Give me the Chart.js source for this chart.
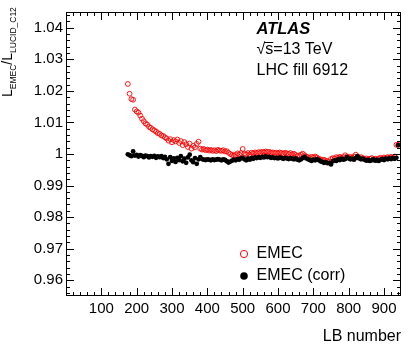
<!DOCTYPE html>
<html>
<head>
<meta charset="utf-8">
<script src="https://cdn.jsdelivr.net/npm/chart.js@4.4.1/dist/chart.umd.min.js"></script>
<style>
  html, body { margin: 0; padding: 0; background: #fff; }
  #wrap { width: 414px; height: 353px; }
</style>
</head>
<body>
<div id="wrap"><canvas id="lumi-ratio" width="414" height="353"></canvas></div>
<script>
/* EMEC / LUCID_C12 luminosity ratio vs LB, fill 6912 */

const lbNumbers = [
  175, 180, 185, 190, 195, 200, 205, 210, 215, 220,
  225, 230, 235, 240, 245, 250, 255, 260, 265, 270,
  275, 280, 285, 290, 295, 300, 305, 310, 315, 320,
  325, 330, 335, 340, 345, 350, 355, 360, 365, 370,
  375, 380, 385, 390, 395, 400, 405, 410, 415, 420,
  425, 430, 435, 440, 445, 450, 455, 460, 465, 470,
  475, 480, 485, 490, 495, 500, 505, 510, 515, 520,
  525, 530, 535, 540, 545, 550, 555, 560, 565, 570,
  575, 580, 585, 590, 595, 600, 605, 610, 615, 620,
  625, 630, 635, 640, 645, 650, 655, 660, 665, 670,
  675, 680, 685, 690, 695, 700, 705, 710, 715, 720,
  725, 730, 735, 740, 745, 750, 755, 760, 765, 770,
  775, 780, 785, 790, 795, 800, 805, 810, 815, 820,
  825, 830, 835, 840, 845, 850, 855, 860, 865, 870,
  875, 880, 885, 890, 895, 900, 905, 910, 915, 920,
  925, 930, 935, 940
];

// EMEC (open red circles)
const emecRatio = [
  1.0222, 1.0191, 1.0174, 1.0172, 1.0141, 1.0135, 1.0131, 1.0122, 1.0112, 1.0104,
  1.0097, 1.0093, 1.0086, 1.0083, 1.0078, 1.0075, 1.0071, 1.0066, 1.0064, 1.0059,
  1.0057, 1.0053, 1.0049, 1.0042, 1.0047, 1.0037, 1.0044, 1.0040, 1.0046, 1.0035,
  1.0041, 1.0028, 1.0038, 1.0031, 1.0022, 1.0033, 1.0017, 1.0026, 1.0021, 1.0032,
  1.0039, 1.0017, 1.0014, 1.0016, 1.0012, 1.0014, 1.0011, 1.0013, 1.0010, 1.0012,
  1.0009, 1.0013, 1.0011, 1.0010, 1.0012, 1.0008, 1.0009, 1.0004, 1.0000, 0.9997,
  0.9995, 0.9997, 1.0002, 0.9999, 1.0003, 1.0016, 1.0001, 0.9999, 1.0003, 0.9998,
  1.0004, 1.0002, 1.0005, 1.0003, 1.0006, 1.0004, 1.0007, 1.0005, 1.0008, 1.0006,
  1.0007, 1.0004, 1.0005, 1.0003, 1.0004, 1.0002, 1.0005, 1.0003, 1.0001, 1.0004,
  1.0002, 1.0000, 1.0003, 0.9999, 1.0001, 0.9997, 0.9994, 0.9995, 0.9998, 1.0001,
  0.9996, 0.9992, 0.9990, 0.9987, 0.9991, 0.9989, 0.9992, 0.9989, 0.9985, 0.9983,
  0.9980, 0.9982, 0.9978, 0.9978, 0.9975, 0.9984, 0.9987, 0.9985, 0.9990, 0.9988,
  0.9991, 0.9988, 0.9990, 0.9996, 0.9992, 0.9989, 0.9991, 0.9988, 0.9992, 0.9998,
  0.9991, 0.9988, 0.9990, 0.9987, 0.9984, 0.9986, 0.9983, 0.9985, 0.9987, 0.9983,
  0.9985, 0.9982, 0.9986, 0.9988, 0.9985, 0.9989, 0.9987, 0.9990, 0.9988, 0.9991,
  0.9989, 0.9992, 1.0029, 1.0029
];

// EMEC (corr) (filled black circles)
const emecCorrRatio = [
  0.9999, 0.9996, 0.9993, 1.0008, 0.9995, 0.9997, 0.9992, 0.9996, 0.9994, 0.9990,
  0.9995, 0.9993, 0.9989, 0.9993, 0.9991, 0.9994, 0.9988, 0.9992, 0.9990, 0.9993,
  0.9987, 0.9991, 0.9983, 0.9969, 0.9990, 0.9978, 0.9986, 0.9975, 0.9988, 0.9981,
  0.9993, 0.9977, 0.9985, 0.9972, 0.9989, 0.9998, 0.9980, 0.9974, 0.9987, 0.9969,
  0.9983, 0.9990, 0.9984, 0.9982, 0.9981, 0.9983, 0.9982, 0.9980, 0.9983, 0.9981,
  0.9982, 0.9984, 0.9982, 0.9980, 0.9983, 0.9981, 0.9977, 0.9973, 0.9976, 0.9979,
  0.9982, 0.9980, 0.9984, 0.9982, 0.9986, 0.9988, 0.9983, 0.9980, 0.9985, 0.9982,
  0.9987, 0.9985, 0.9989, 0.9987, 0.9990, 0.9988, 0.9991, 0.9989, 0.9992, 0.9990,
  0.9991, 0.9988, 0.9989, 0.9987, 0.9988, 0.9986, 0.9989, 0.9987, 0.9985, 0.9988,
  0.9986, 0.9984, 0.9987, 0.9985, 0.9983, 0.9986, 0.9982, 0.9980, 0.9983, 0.9987,
  0.9991, 0.9986, 0.9983, 0.9981, 0.9978, 0.9982, 0.9980, 0.9984, 0.9981, 0.9977,
  0.9975, 0.9972, 0.9974, 0.9971, 0.9971, 0.9967, 0.9977, 0.9980, 0.9978, 0.9983,
  0.9981, 0.9985, 0.9982, 0.9984, 0.9990, 0.9986, 0.9983, 0.9985, 0.9982, 0.9987,
  0.9993, 0.9986, 0.9983, 0.9985, 0.9982, 0.9979, 0.9981, 0.9978, 0.9980, 0.9983,
  0.9979, 0.9981, 0.9978, 0.9982, 0.9984, 0.9981, 0.9985, 0.9983, 0.9986, 0.9984,
  0.9987, 0.9985, 0.9988, 1.0028
];

const xTickValues = [100, 200, 300, 400, 500, 600, 700, 800, 900];
const yTickValues = [0.96, 0.97, 0.98, 0.99, 1, 1.01, 1.02, 1.03, 1.04];
const xRange = [0, 948];
const yRange = [0.955, 1.045];

const FONT = '"Liberation Sans", Arial, Helvetica, sans-serif';
const RED = '#ff0000';

const toPoints = (ys) => lbNumbers.map((lb, i) => ({ x: lb, y: ys[i] }));

// frame, inner ticks (ROOT style), titles, legend and ATLAS label
const rootDecor = {
  id: 'rootDecor',
  afterDatasetsDraw(chart) {
    const { ctx, chartArea: a, scales: { x, y } } = chart;
    ctx.save();
    ctx.strokeStyle = '#000';
    ctx.lineWidth = 1;
    ctx.strokeRect(a.left + 0.5, a.top + 0.5, a.right - a.left - 1, a.bottom - a.top - 1);

    ctx.beginPath();
    for (let v = 0; v <= xRange[1]; v += 20) {
      const px = Math.round(x.getPixelForValue(v)) + 0.5;
      const len = v % 100 === 0 ? 8 : 4;
      ctx.moveTo(px, a.bottom); ctx.lineTo(px, a.bottom - len);
      ctx.moveTo(px, a.top); ctx.lineTo(px, a.top + len);
    }
    for (let k = 956; k <= 1044; k += 2) {
      const py = Math.round(y.getPixelForValue(k / 1000)) + 0.5;
      const len = k % 10 === 0 ? 8 : 4;
      ctx.moveTo(a.left, py); ctx.lineTo(a.left + len, py);
      ctx.moveTo(a.right, py); ctx.lineTo(a.right - len, py);
    }
    ctx.stroke();

    ctx.fillStyle = '#000';
    ctx.textBaseline = 'middle';

    // x title
    ctx.font = '16px ' + FONT;
    ctx.textAlign = 'right';
    ctx.fillText('LB number', a.right, 337);

    // y title, rotated, with subscripts
    ctx.save();
    ctx.translate(12, 97);
    ctx.rotate(-Math.PI / 2);
    ctx.textAlign = 'left';
    ctx.textBaseline = 'alphabetic';
    const parts = [['L', 14, 0], ['EMEC', 8.5, 3.5], ['/', 14, 0], ['L', 14, 0], ['LUCID_C12', 8.5, 3.5]];
    let cx = 0;
    parts.forEach(([t, size, dy]) => {
      ctx.font = size + 'px ' + FONT;
      ctx.fillText(t, cx, dy);
      cx += ctx.measureText(t).width;
    });
    ctx.restore();

    // ATLAS label
    const tx = 256.5;
    ctx.textAlign = 'left';
    ctx.font = 'italic bold 16.5px ' + FONT;
    ctx.fillText('ATLAS', tx, 29);
    ctx.font = '16px ' + FONT;
    const rootW = ctx.measureText('\u221A').width;
    const sW = ctx.measureText('s').width;
    ctx.fillText('\u221As=13 TeV', tx, 50);
    ctx.beginPath();
    ctx.moveTo(tx + rootW - 1, 42.5);
    ctx.lineTo(tx + rootW + sW, 42.5);
    ctx.stroke();
    ctx.fillText('LHC fill 6912', tx, 71);

    // legend
    ctx.lineWidth = 1;
    ctx.strokeStyle = RED;
    ctx.beginPath();
    ctx.arc(244, 254, 3.6, 0, Math.PI * 2);
    ctx.stroke();
    ctx.fillStyle = '#000';
    ctx.beginPath();
    ctx.arc(244, 276, 3.8, 0, Math.PI * 2);
    ctx.fill();
    ctx.font = '16px ' + FONT;
    ctx.fillText('EMEC', tx, 254);
    ctx.fillText('EMEC (corr)', tx, 276);
    ctx.restore();
  }
};

new Chart(document.getElementById('lumi-ratio'), {
  type: 'scatter',
  data: {
    datasets: [
      {
        label: 'EMEC',
        data: toPoints(emecRatio),
        pointStyle: 'circle',
        pointRadius: 2.4,
        pointBorderWidth: 0.9,
        pointBorderColor: RED,
        pointBackgroundColor: 'rgba(0,0,0,0)',
        order: 2
      },
      {
        label: 'EMEC (corr)',
        data: toPoints(emecCorrRatio),
        pointStyle: 'circle',
        pointRadius: 2.4,
        pointBorderWidth: 0,
        pointBackgroundColor: '#000',
        order: 1
      }
    ]
  },
  options: {
    responsive: false,
    animation: false,
    devicePixelRatio: 1,
    layout: { padding: { top: 11, right: 13, left: 0, bottom: 0 } },
    plugins: { legend: { display: false }, tooltip: { enabled: false } },
    scales: {
      x: {
        type: 'linear',
        min: xRange[0], max: xRange[1],
        grid: { display: false, drawTicks: false },
        border: { display: false },
        ticks: {
          autoSkip: false, maxRotation: 0,
          padding: 4, color: '#000', font: { family: FONT, size: 15 },
          callback: v => String(v)
        },
        afterBuildTicks: s => { s.ticks = xTickValues.map(v => ({ value: v })); },
        afterFit: s => { s.height = 57; }
      },
      y: {
        min: yRange[0], max: yRange[1],
        grid: { display: false, drawTicks: false },
        border: { display: false },
        ticks: {
          autoSkip: false,
          padding: 3, color: '#000', font: { family: FONT, size: 15 },
          callback: v => String(Number(v.toFixed(2)))
        },
        afterBuildTicks: s => { s.ticks = yTickValues.map(v => ({ value: v })); },
        afterFit: s => { s.width = 66; }
      }
    }
  },
  plugins: [rootDecor]
});
</script>
</body>
</html>
